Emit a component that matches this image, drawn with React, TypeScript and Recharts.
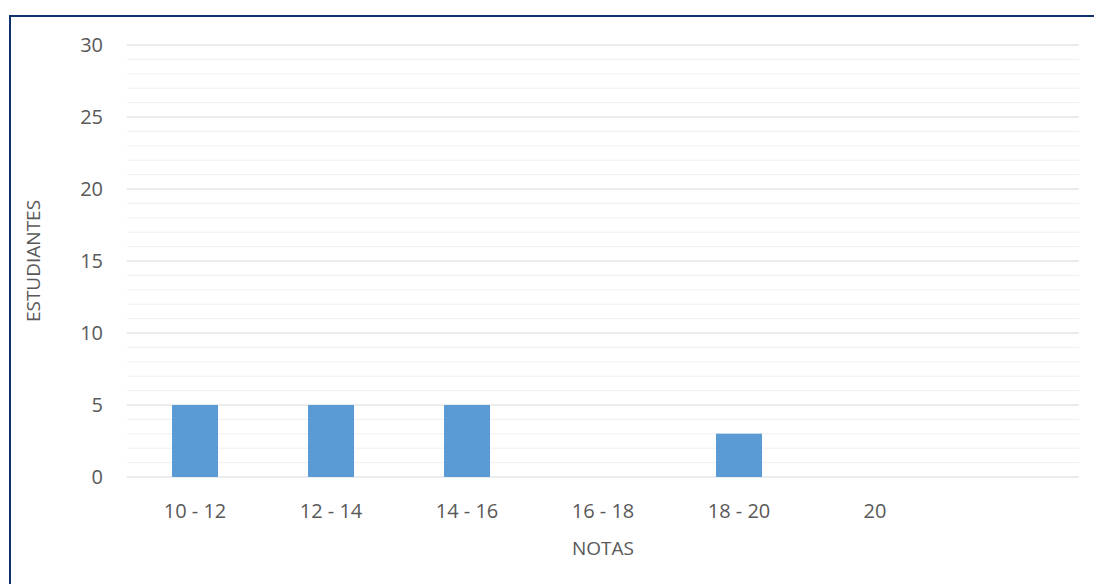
import { Bar, BarChart, CartesianGrid, ReferenceLine, XAxis, YAxis } from "recharts";

const categories = ["10 - 12", "12 - 14", "14 - 16", "16 - 18", "18 - 20", "20", ""];
const students = [5, 5, 5, 0, 3, 0, null];
const majorTicks = [0, 5, 10, 15, 20, 25, 30];
const minorTicks = [
  1, 2, 3, 4, 6, 7, 8, 9, 11, 12, 13, 14, 16, 17, 18, 19, 21, 22, 23, 24, 26,
  27, 28, 29,
];

const chartData = categories.map((nota, i) => ({
  nota,
  estudiantes: students[i],
}));

const font = "'Open Sans', sans-serif";
const textColor = "#595959";
const barColor = "#5b9bd5";

export default function App() {
  return (
    <div
      style={{
        position: "absolute",
        left: 0,
        top: 0,
        width: 1094,
        height: 584,
        background: "#fff",
        overflow: "hidden",
        fontFamily: font,
      }}
    >
      <div
        style={{
          position: "absolute",
          left: 9,
          top: 15,
          width: 1200,
          height: 700,
          borderTop: "2px solid #10306e",
          borderLeft: "2px solid #10306e",
        }}
      />
      {/* back layer: axes, grid and minor lines */}
      <div style={{ position: "absolute", left: 0, top: 0 }}>
        <BarChart
          width={1094}
          height={584}
          data={chartData}
          margin={{ top: 45, right: 15, bottom: 0, left: 67 }}
          barSize={46}
        >
          <CartesianGrid vertical={false} stroke="#d9d9d9" />
          {minorTicks.map((t) => (
            <ReferenceLine key={t} y={t} stroke="#efefef" />
          ))}
          <XAxis
            dataKey="nota"
            height={107}
            interval={0}
            axisLine={false}
            tickLine={false}
            tickSize={0}
            tickMargin={27}
            tick={{ fill: textColor, fontSize: 20, fontFamily: font }}
            label={{
              value: "NOTAS",
              position: "insideBottom",
              offset: 29,
              fill: textColor,
              fontSize: 19,
              fontFamily: font,
            }}
          />
          <YAxis
            width={60}
            domain={[0, 30]}
            ticks={majorTicks}
            interval={0}
            axisLine={false}
            tickLine={false}
            tickSize={0}
            tickMargin={24}
            tick={{ fill: textColor, fontSize: 20, fontFamily: font }}
            label={{
              value: "ESTUDIANTES",
              angle: -90,
              position: "insideLeft",
              offset: -34,
              style: { textAnchor: "middle" },
              fill: textColor,
              fontSize: 19,
              fontFamily: font,
            }}
          />
          <Bar dataKey="estudiantes" fill={barColor} isAnimationActive={false} />
        </BarChart>
      </div>
      {/* front layer: bars drawn over the minor lines */}
      <div style={{ position: "absolute", left: 0, top: 0 }}>
        <BarChart
          width={1094}
          height={584}
          data={chartData}
          margin={{ top: 45, right: 15, bottom: 107, left: 127 }}
          barSize={46}
        >
          <XAxis dataKey="nota" hide />
          <YAxis hide domain={[0, 30]} ticks={majorTicks} />
          <Bar dataKey="estudiantes" fill={barColor} isAnimationActive={false} />
        </BarChart>
      </div>
    </div>
  );
}
